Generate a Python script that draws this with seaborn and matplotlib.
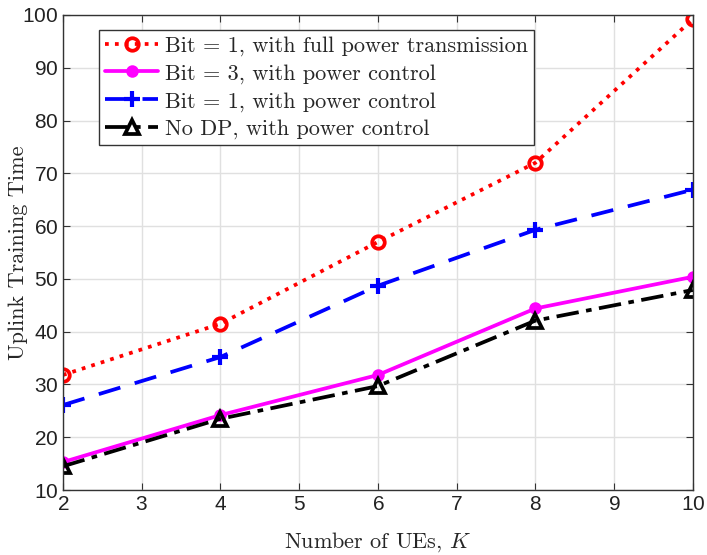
import numpy as np
import pandas as pd
import matplotlib
matplotlib.use('Agg')
from matplotlib import pyplot as plt
import seaborn as sns

K = [2, 4, 6, 8, 10]
bit1_full = [31.8, 41.5, 57.0, 72.0, 99.2]
bit3_pc = [15.3, 24.2, 31.8, 44.4, 50.4]
bit1_pc = [26.1, 35.2, 48.7, 59.3, 66.9]
nodp_pc = [14.5, 23.5, 29.7, 42.1, 47.9]

labels = ['Bit = 1, with full power transmission',
          'Bit = 3, with power control',
          'Bit = 1, with power control',
          'No DP, with power control']

sns.set_style('ticks')
plt.rcParams['mathtext.fontset'] = 'cm'
plt.rcParams['axes.formatter.use_mathtext'] = True

fig = plt.figure(figsize=(7.07, 5.55), dpi=100)
ax = fig.add_axes([0.089, 0.117, 0.891, 0.856])

serif = {'family': 'cmr10', 'size': 16}

# series styles (MATLAB look)
styles = [
    dict(color='red', linestyle=':', marker='o', markersize=9, markerfacecolor='none',
         markeredgecolor='red', markeredgewidth=2.7, linewidth=2.7),
    dict(color='magenta', linestyle='-', marker='o', markersize=7.5, markerfacecolor='magenta',
         markeredgecolor='magenta', markeredgewidth=1.5, linewidth=2.7),
    dict(color='blue', linestyle=(0, (6, 4)), marker='+', markersize=11,
         markeredgecolor='blue', markeredgewidth=3, linewidth=2.7),
    dict(color='black', linestyle=(0, (6, 2, 1.5, 2)), marker='^', markersize=10,
         markerfacecolor='none', markeredgecolor='black', markeredgewidth=2.7, linewidth=2.7),
]

for vals, lab, st in zip([bit1_full, bit3_pc, bit1_pc, nodp_pc], labels, styles):
    df = pd.DataFrame({'K': K, 'T': vals})
    sns.lineplot(data=df, x='K', y='T', ax=ax, label=lab, **st)

ax.set_xlim(2, 10)
ax.set_ylim(10, 100)
ax.set_xticks(range(2, 11))
ax.set_yticks(range(10, 101, 10))
ax.grid(True, color='#e0e0e0', linewidth=1)
ax.tick_params(direction='in', top=True, right=True, labelsize=15, length=5, color='#333333')
for s in ax.spines.values():
    s.set_color('#333333')
    s.set_linewidth(1)
for t in ax.get_xticklabels() + ax.get_yticklabels():
    t.set_family('Liberation Sans')
    t.set_color('#222222')

ax.set_xlabel('Number of UEs, $K$', fontdict=serif)
ax.set_ylabel('Uplink Training Time', fontdict=serif)
ax.xaxis.set_label_coords(0.5, -0.085)
ax.yaxis.set_label_coords(-0.056, 0.5)

leg = ax.legend(loc='upper left', bbox_to_anchor=(0.058, 0.968), prop={'family': 'cmr10', 'size': 16},
                frameon=True, fancybox=False, edgecolor='#333333', framealpha=1,
                handlelength=2.4, borderpad=0.25, labelspacing=0.36, handletextpad=0.3,
                borderaxespad=0)
leg.get_frame().set_linewidth(1)

fig.savefig('out.png', dpi=100)
